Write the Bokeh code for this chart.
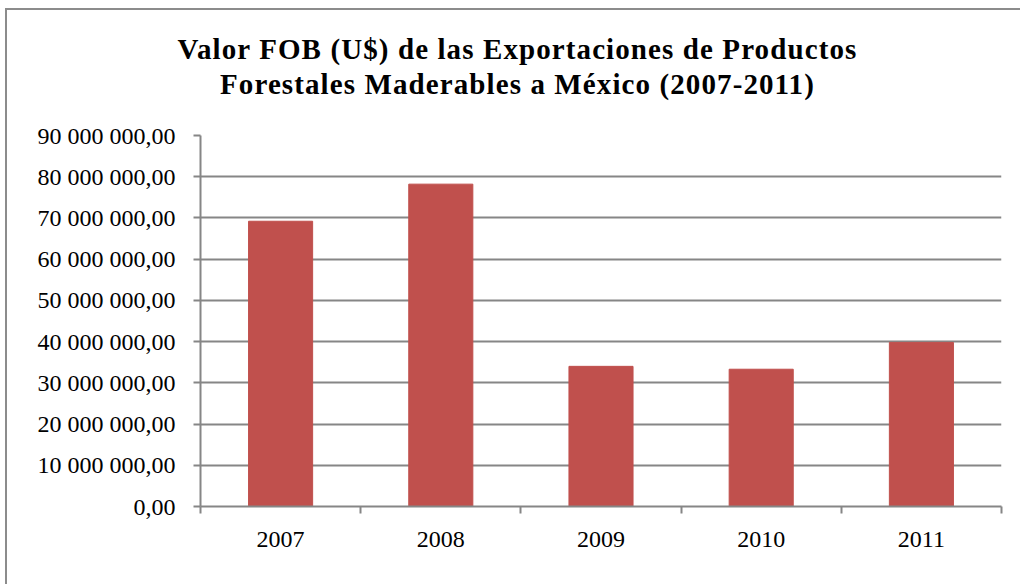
from bokeh.plotting import figure
from bokeh.models import FixedTicker, Range1d, Div
from bokeh.layouts import column
from bokeh.embed import file_html
from bokeh.resources import INLINE

years = ["2007", "2008", "2009", "2010", "2011"]
values = [69200000, 78200000, 34000000, 33300000, 39800000]
y_ticks = [0, 10000000, 20000000, 30000000, 40000000, 50000000, 60000000, 70000000, 80000000, 90000000]
y_tick_labels = ["0,00", "10 000 000,00", "20 000 000,00", "30 000 000,00", "40 000 000,00",
                 "50 000 000,00", "60 000 000,00", "70 000 000,00", "80 000 000,00", "90 000 000,00"]
title_lines = ["Valor FOB (U$) de las Exportaciones de Productos",
               "Forestales Maderables a México (2007-2011)"]

font = "'Liberation Serif', 'Times New Roman', Times, 'DejaVu Serif', serif"
gray = "#868686"

W = 1013
title_html = ("<div style=\"font-family:%s;font-weight:bold;font-size:29px;"
              "line-height:35px;text-align:center;color:black;padding-top:22px;padding-left:8px;"
              "letter-spacing:1.1px;width:%dpx;box-sizing:border-box;\">%s</div>"
              % (font, W, "<br>".join(title_lines)))
title_div = Div(text=title_html, width=W, height=110, margin=(0, 0, 0, 0))

p = figure(width=W, height=464, output_backend="svg", toolbar_location=None,
           x_range=Range1d(0, len(years)), y_range=Range1d(0, 90000000),
           min_border_left=193, min_border_right=19, min_border_top=15, min_border_bottom=78)

xs = [i + 0.5 for i in range(len(years))]
p.vbar(x=xs, top=values, width=0.4, color="#C0504D")

# x axis
p.xaxis.ticker = FixedTicker(ticks=xs, minor_ticks=list(range(len(years) + 1)))
p.xaxis.major_label_overrides = {x: y for x, y in zip(xs, years)}
p.xaxis.major_tick_line_color = None
p.xaxis.minor_tick_out = 7
p.xaxis.minor_tick_in = 0
p.xaxis.minor_tick_line_color = gray
p.xaxis.minor_tick_line_width = 2
p.xaxis.axis_line_color = gray
p.xaxis.axis_line_width = 2
p.xaxis.major_label_text_font = font
p.xaxis.major_label_text_font_size = "24px"
p.xaxis.major_label_text_color = "black"
p.xaxis.major_label_standoff = 18

# y axis
p.yaxis.ticker = FixedTicker(ticks=y_ticks, minor_ticks=[])
p.yaxis.major_label_overrides = {t: l for t, l in zip(y_ticks, y_tick_labels)}
p.yaxis.major_tick_out = 7
p.yaxis.major_tick_in = 0
p.yaxis.major_tick_line_color = gray
p.yaxis.major_tick_line_width = 2
p.yaxis.axis_line_color = gray
p.yaxis.axis_line_width = 2
p.yaxis.major_label_text_font = font
p.yaxis.major_label_text_font_size = "24px"
p.yaxis.major_label_text_color = "black"
p.yaxis.major_label_standoff = 18

p.xgrid.grid_line_color = None
p.ygrid.grid_line_color = gray
p.ygrid.grid_line_width = 2
p.outline_line_color = None

layout = column(title_div, p, spacing=0,
                styles={"border-left": "2px solid #8c8c8c", "border-top": "2px solid #8c8c8c",
                        "margin-left": "5px", "margin-top": "8px"})

open("out.html", "w").write(file_html(layout, INLINE))
